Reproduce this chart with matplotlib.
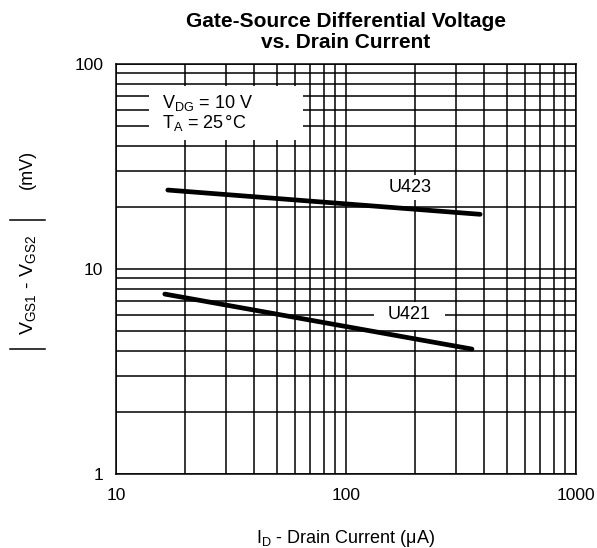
import matplotlib
matplotlib.use("Agg")
import matplotlib.pyplot as plt
from matplotlib.patches import Rectangle
from matplotlib.lines import Line2D

plt.rcParams['font.family'] = ['Liberation Sans', 'DejaVu Sans']
plt.rcParams['mathtext.fontset'] = 'custom'
plt.rcParams['mathtext.rm'] = 'Liberation Sans'
plt.rcParams['mathtext.it'] = 'Liberation Sans'
plt.rcParams['mathtext.default'] = 'regular'

# data (I_D in uA, |dVgs| in mV)
u423_id = [16.8, 383]
u423_mv = [24.3, 18.5]
u421_id = [16.3, 353]
u421_mv = [7.55, 4.07]

x_ticks = [10, 100, 1000]
y_ticks = [1, 10, 100]

fig = plt.figure(figsize=(5.97, 5.48), dpi=100)
ax = fig.add_axes([0.1943, 0.135, 0.7705, 0.748])
ax.set_xscale('log')
ax.set_yscale('log')
ax.set_xlim(10, 1000)
ax.set_ylim(1, 100)

ax.grid(True, which='both', color='black', linewidth=1.1)
ax.set_axisbelow(True)
for s in ax.spines.values():
    s.set_linewidth(1.1)

ax.set_xticks(x_ticks)
ax.set_xticklabels([str(v) for v in x_ticks])
ax.set_yticks(y_ticks)
ax.set_yticklabels([str(v) for v in y_ticks])
ax.tick_params(which='both', length=0, labelsize=12.5)
ax.tick_params(axis='x', pad=10)
ax.tick_params(axis='y', pad=9)
ax.xaxis.set_minor_formatter(plt.NullFormatter())
ax.yaxis.set_minor_formatter(plt.NullFormatter())

ax.plot(u423_id, u423_mv, color='black', linewidth=3.4, solid_capstyle='round', zorder=3)
ax.plot(u421_id, u421_mv, color='black', linewidth=3.4, solid_capstyle='round', zorder=3)

# white box behind conditions text
ax.add_patch(Rectangle((0.072, 0.815), 0.335, 0.131, transform=ax.transAxes,
                       facecolor='white', edgecolor='none', zorder=1))
ax.text(0.100, 0.893, 'V$_{DG}$ = 10 V', transform=ax.transAxes, fontsize=13,
        va='baseline', ha='left', zorder=4)
ax.text(0.100, 0.844, 'T$_A$ = 25\u200a\u00b0\u200aC', transform=ax.transAxes, fontsize=13,
        va='baseline', ha='left', zorder=4)

ax.text(190, 25.1, 'U423', fontsize=13, ha='center', va='center', zorder=4,
        bbox=dict(facecolor='white', edgecolor='none', pad=3))
ax.add_patch(Rectangle((0.561, 0.351), 0.154, 0.069, transform=ax.transAxes,
                       facecolor='white', edgecolor='none', zorder=1))
ax.text(188, 5.97, 'U421', fontsize=13, ha='center', va='center', zorder=4)

ax.set_title('Gate-Source Differential Voltage\nvs. Drain Current',
             fontsize=15, fontweight='bold', pad=11.5, linespacing=1.15)
ax.set_xlabel('I$_D$ - Drain Current (\u03bcA)', fontsize=13, labelpad=18)

# y label with absolute-value bars
fig.text(27.5 / 597, 1 - 285 / 548, 'V$_{GS1}$ - V$_{GS2}$', rotation=90,
         fontsize=14, ha='center', va='center')
fig.text(27.5 / 597, 1 - 169 / 548, '(mV)', rotation=90,
         fontsize=13, ha='center', va='center')
for yb in (220, 349):
    fig.add_artist(Line2D([10 / 597, 45 / 597], [1 - yb / 548, 1 - yb / 548],
                          color='black', linewidth=1.1))

fig.savefig('out.png', dpi=100)
